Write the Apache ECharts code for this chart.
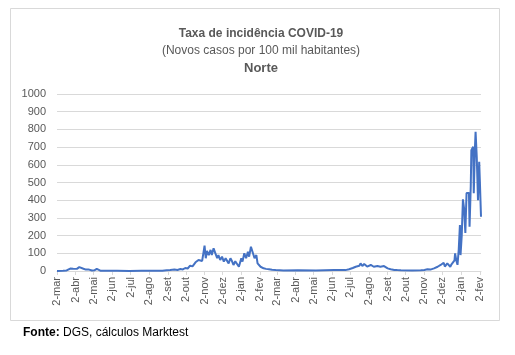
<!DOCTYPE html>
<html>
<head>
<meta charset="utf-8">
<script src="https://cdn.jsdelivr.net/npm/echarts@6/dist/echarts.min.js"></script>
<style>
html,body{margin:0;padding:0;background:#fff;}
#chart{width:515px;height:355px;}
</style>
</head>
<body>
<div id="chart"></div>
<script>
// ---- data ----
const titleText = 'Taxa de incidência COVID-19';
const subtitleText = '(Novos casos por 100 mil habitantes)';
const regionText = 'Norte';
const sourceBold = 'Fonte:';
const sourceText = ' DGS, cálculos Marktest';
const monthNames = ['jan','fev','mar','abr','mai','jun','jul','ago','set','out','nov','dez'];
const startDate = [2020, 2, 2];   // 2 March 2020
const dayCount = 705;             // last day: 5 Feb 2022
const yTicks = {min: 0, max: 1000, interval: 100};

// day offset from 2-mar-2020
const pointDays = [0,10,16,19,22,24,27,30,33,37,40,44,48,52,55,58,62,66,69,72,80,100,120,140,160,175,182,188,195,200,
205,209,213,217,221,225,230,233,235,238,241,243,245,247,249,252,255,257,260,263,266,268,271,274,277,280,282,285,288,290,
293,296,299,302,306,308,311,314,317,319,322,325,328,331,333,336,338,341,343,347,352,357,363,370,376,400,430,460,479,482,
485,488,491,493,496,499,502,504,507,510,513,515,518,521,524,526,529,532,535,537,540,543,546,549,554,560,565,571,590,604,
610,615,620,626,629,632,635,637,640,642,644,646,648,651,653,655,657,658,660,661,663,665,667,669,670,672,674,676,678,680,
682,684,685,687,688,690,691,692,694,695,697,699,701,702,704];
// incidence values
const pointValues = [0,1,3,10,14,20,13,17,12,22,12,13,8,9,5,3,4,12,3,2,1,1,0,1,1,2,4,5,8,6,
11,9,17,14,30,26,49,42,62,72,57,100,143,72,113,90,119,90,128,100,72,90,62,81,53,72,60,43,72,60,
34,55,53,24,72,53,100,72,109,81,137,128,72,90,43,35,24,20,15,12,10,7,5,4,3,4,3,5,5,12,
10,20,17,28,24,34,30,43,28,40,30,25,30,34,26,24,30,28,22,24,26,28,20,15,10,6,5,4,3,4,
6,10,8,15,12,24,20,34,30,47,25,28,43,35,24,38,47,34,60,100,60,35,120,260,90,200,405,350,215,440,
445,440,250,480,683,690,702,440,700,787,640,400,617,520,307];

// ---- build ----
const categories = [];
const t0 = Date.UTC(startDate[0], startDate[1], startDate[2]);
for (let i = 0; i < dayCount; i++) {
  const d = new Date(t0 + i * 86400000);
  categories.push(d.getUTCDate() + '-' + monthNames[d.getUTCMonth()]);
}
const seriesData = pointDays.map((d, i) => [d, pointValues[i]]);
const isMonthTick = (idx, val) => /^2-/.test(val);

const chart = echarts.init(document.getElementById('chart'));
const font = 'Liberation Sans, Arial, sans-serif';
chart.setOption({
  animation: false,
  backgroundColor: '#fff',
  title: [
    {text: titleText, left: 256, top: 23, textAlign: 'center',
     textStyle: {fontFamily: font, fontSize: 12, fontWeight: 'bold', color: '#595959'}},
    {text: subtitleText, left: 256, top: 40, textAlign: 'center',
     textStyle: {fontFamily: font, fontSize: 12, fontWeight: 'normal', color: '#595959'}},
    {text: regionText, left: 256, top: 57, textAlign: 'center',
     textStyle: {fontFamily: font, fontSize: 13, fontWeight: 'bold', color: '#595959'}}
  ],
  graphic: [
    {type: 'rect', shape: {x: 10.5, y: 8.5, width: 489, height: 312},
     style: {fill: 'none', stroke: '#d9d9d9', lineWidth: 1}, z: -1},
    {type: 'text', left: 23, top: 327,
     style: {text: '{b|' + sourceBold + '}' + sourceText, fontFamily: font, fontSize: 12, fill: '#000',
       rich: {b: {fontWeight: 'bold', fontFamily: font, fontSize: 12, fill: '#000'}}}}
  ],
  grid: {left: 57, right: 34, top: 94, bottom: 84},
  xAxis: {
    type: 'category', data: categories, boundaryGap: false,
    axisLine: {lineStyle: {color: '#d9d9d9'}},
    axisTick: {show: true, interval: isMonthTick, length: 4, lineStyle: {color: '#d9d9d9'}},
    axisLabel: {interval: isMonthTick, rotate: 90, margin: 6, fontFamily: font, fontSize: 11, color: '#595959'},
    splitLine: {show: false}
  },
  yAxis: {
    type: 'value', min: yTicks.min, max: yTicks.max, interval: yTicks.interval,
    axisLine: {show: false}, axisTick: {show: false},
    axisLabel: {fontFamily: font, fontSize: 11, color: '#595959', margin: 11, formatter: v => String(v)},
    splitLine: {lineStyle: {color: '#d9d9d9'}}
  },
  series: [{
    type: 'line', data: seriesData, showSymbol: false, symbol: 'none',
    lineStyle: {color: '#4472C4', width: 2}, itemStyle: {color: '#4472C4'}
  }]
});
</script>
</body>
</html>
